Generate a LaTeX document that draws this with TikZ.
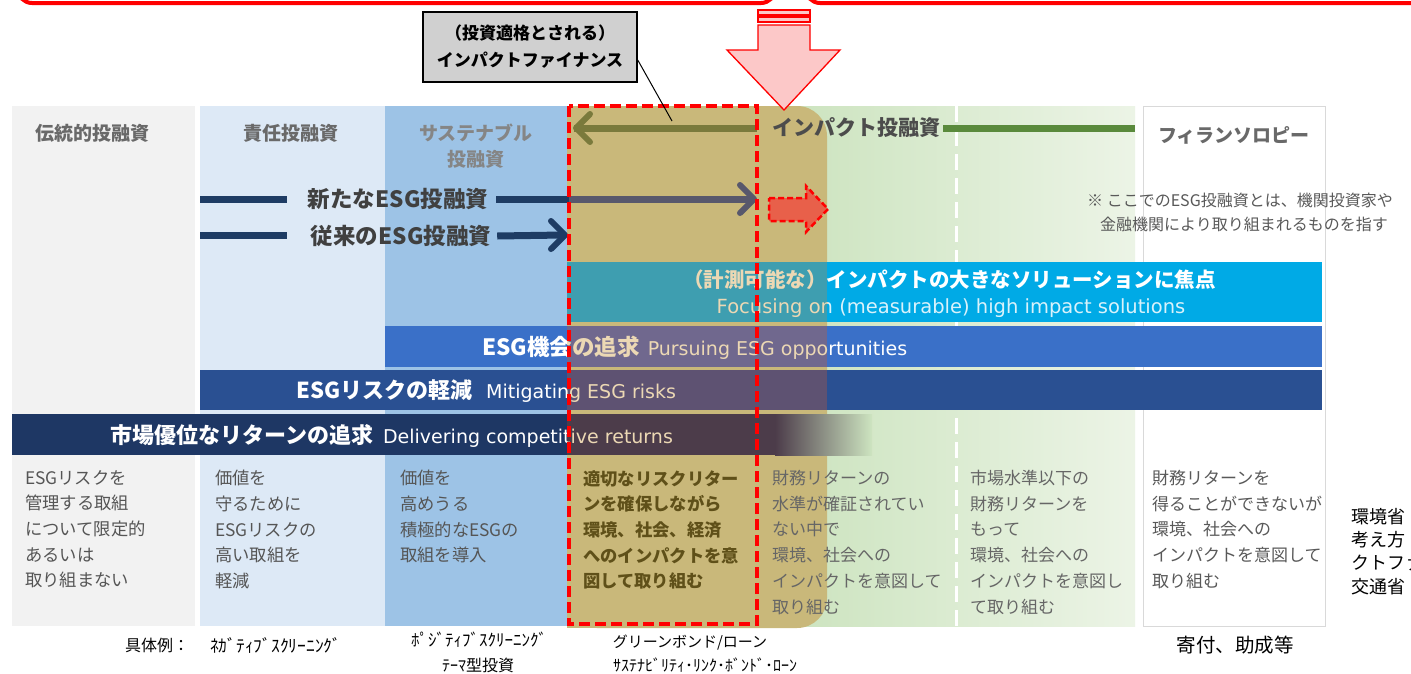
\documentclass[tikz,border=0pt]{standalone}
\usepackage{fontspec}
\setmainfont{Noto Sans CJK JP}
\newfontfamily\en{DejaVu Sans}
\usetikzlibrary{arrows.meta}
\definecolor{colA}{RGB}{242,242,242}
\definecolor{colB}{RGB}{221,233,246}
\definecolor{colC}{RGB}{157,195,230}
\definecolor{greenL}{RGB}{205,228,192}
\definecolor{greenR}{RGB}{236,244,230}
\definecolor{khaki}{RGB}{201,184,122}
\definecolor{cyanbar}{RGB}{0,170,230}
\definecolor{barB}{RGB}{58,112,200}
\definecolor{barC}{RGB}{42,80,146}
\definecolor{barD}{RGB}{30,55,100}
\definecolor{tintA}{RGB}{62,158,176}
\definecolor{tintB}{RGB}{112,104,142}
\definecolor{tintC}{RGB}{94,82,114}
\definecolor{tintD}{RGB}{76,60,74}
\definecolor{navyline}{RGB}{30,60,100}
\definecolor{grayarrow}{RGB}{88,88,108}
\definecolor{olive}{RGB}{122,122,60}
\definecolor{greenline}{RGB}{90,138,60}
\definecolor{descgray}{RGB}{85,85,85}
\definecolor{hdrgray}{RGB}{105,105,105}
\definecolor{khakitext}{RGB}{95,80,25}
\definecolor{pinkA}{RGB}{252,200,200}
\definecolor{beige}{RGB}{236,216,180}
\definecolor{calloutgray}{RGB}{208,208,208}
\definecolor{redarrow}{RGB}{232,96,74}
\newcommand\bartexts[2]{%
  \node[bartxt, text=#1, font=\bfseries\fontsize{20.5}{24}\selectfont] (b1j) at (683,280) {（計測可能な）インパクトの大きなソリューションに焦点};
  \node[inner sep=0, text=#2, font=\en\fontsize{19.5}{22}\selectfont] (b1e) at (951,308) {Focusing on (measurable) high impact solutions};
  \node[bartxt, text=#1] (b2t) at (482,348) {{\bfseries\fontsize{22.5}{24}\selectfont ESG機会の追求}\hspace{8pt}{\en\fontsize{19}{22}\selectfont Pursuing ESG opportunities}};
  \node[bartxt, text=#1] (b3t) at (296,391) {{\bfseries\fontsize{22}{24}\selectfont ESGリスクの軽減}\hspace{14pt}{\en\fontsize{19}{22}\selectfont Mitigating ESG risks}};
  \node[bartxt, text=#1] (b4t) at (110,436) {{\bfseries\fontsize{22}{24}\selectfont 市場優位なリターンの追求}\hspace{10pt}{\en\fontsize{19}{22}\selectfont Delivering competitive returns}};
}
\begin{document}
\begin{tikzpicture}[x=1pt,y=-1pt,
  hdr/.style={inner sep=0, text=hdrgray, font=\bfseries\fontsize{19}{26}\selectfont, align=center},
  desc/.style={anchor=north west, inner sep=0, align=left, text=descgray, font=\fontsize{17.3}{25.7}\selectfont},
  bartxt/.style={anchor=west, inner sep=0},
  bigarrow/.style={line width=7pt},
  example/.style={inner sep=0, font=\fontsize{16}{24}\selectfont, align=center}]
\useasboundingbox (0,0) rectangle (1411,673);
\fill[white] (0,0) rectangle (1411,673);
% columns
\fill[colA] (12,106) rectangle (195,626);
\fill[colB] (200,106) rectangle (385,626);
\fill[colC] (385,106) rectangle (567,626);
\shade[left color=greenL, right color=greenR] (800,106) rectangle (1135,626);
\draw[gray!30, fill=white] (1143,106) rectangle (1325,626);
\fill[khaki, rounded corners=30] (567,106) -- (827,106) -- (827,628) -- (567,628) [sharp corners] -- cycle;
\fill[khaki] (567,106) rectangle (700,628);
\draw[white, line width=3pt, dash pattern=on 16pt off 8pt] (956,106) -- (956,626);
% headers
\node[hdr] (h1) at (92,133) {伝統的投融資};
\node[hdr] (h2) at (291,133) {責任投融資};
\node[hdr, text=black!48] (h3) at (476,146) {サステナブル\\投融資};
\node[hdr, text=black!70, font=\bfseries\fontsize{21}{24}\selectfont] (h5) at (856,128) {インパクト投融資};
\node[hdr] (h7) at (1234,135) {フィランソロピー};
% olive and green lines
\coordinate (olS) at (757,128);
\coordinate (olE) at (574,128);
\draw[olive, bigarrow] (olS) -- (olE);
\draw[olive, line width=6pt, line cap=round, line join=round] (590,114) -- (576,128) -- (590,142);
\coordinate (glE) at (1135,128);
\draw[greenline, bigarrow] (h5.east) ++(3,0) coordinate (glS) -- (glE);
% ESG arrows
\node[inner sep=0, text=black!75, font=\bfseries\fontsize{22.5}{24}\selectfont] (nesg) at (398,199) {新たなESG投融資};
\node[inner sep=0, text=black!75, font=\bfseries\fontsize{22.5}{24}\selectfont] (oesg) at (401,236) {従来のESG投融資};
\draw[navyline, bigarrow] (200,199) -- (287,199);
\draw[navyline, bigarrow] (200,235) -- (287,235);
\draw[navyline, bigarrow] (nesg.east) ++(8,0) -- (569,199);
\draw[grayarrow, bigarrow] (569,199) -- (753,199);
\draw[grayarrow, line width=6pt, line cap=round, line join=round] (740,185) -- (754,199) -- (740,213);
\draw[navyline, bigarrow] (oesg.east) ++(6,0) -- (563,235);
\draw[navyline, line width=6pt, line cap=round, line join=round] (551,221) -- (565,235) -- (551,249);
% bars
\fill[cyanbar] (567,262) rectangle (1322,322);
\fill[barB] (385,326) rectangle (1322,367);
\fill[barC] (200,370) rectangle (1322,410);
\fill[barD] (12,414) rectangle (567,455);
\fill[tintA] (567,262) rectangle (827,322);
\fill[tintB] (567,326) rectangle (827,367);
\fill[tintC] (567,370) rectangle (827,410);
\fill[tintD] (567,414) rectangle (775,455);
\shade[left color=tintD, right color=greenL] (775,414) rectangle (872,455);
\begin{scope}
  \clip (0,0) rectangle (567,673) (827,0) rectangle (1411,673);
  \bartexts{white}{white!85!cyanbar}
\end{scope}
\begin{scope}
  \clip (567,0) rectangle (827,673);
  \bartexts{beige}{beige}
\end{scope}
% descriptions
\node[desc] (d1) at (25,470) {ESGリスクを\\管理する取組\\について限定的\\あるいは\\取り組まない};
\node[desc] (d2) at (215,470) {価値を\\守るために\\ESGリスクの\\高い取組を\\軽減};
\node[desc] (d3) at (400,470) {価値を\\高めうる\\積極的なESGの\\取組を導入};
\node[desc, text=khakitext, font=\bfseries\fontsize{17.3}{25.7}\selectfont] (d4) at (583,470) {適切なリスクリター\\ンを確保しながら\\環境、社会、経済\\へのインパクトを意\\図して取り組む};
\node[desc, text=black!60, font=\fontsize{17}{25.7}\selectfont] (d5) at (772,470) {財務リターンの\\水準が確証されてい\\ない中で\\環境、社会への\\インパクトを意図して\\取り組む};
\node[desc, text=black!60, font=\fontsize{17}{25.7}\selectfont] (d6) at (970,470) {市場水準以下の\\財務リターンを\\もって\\環境、社会への\\インパクトを意図し\\て取り組む};
\node[desc, text=black!65, font=\fontsize{17}{25.7}\selectfont] (d7) at (1152,470) {財務リターンを\\得ることができないが\\環境、社会への\\インパクトを意図して\\取り組む};
% red dashed frame
\draw[red, line width=3.5pt, dash pattern=on 11pt off 5pt] (569,106) rectangle (757,624);
% small red dashed block arrow
\draw[red, fill=redarrow, line width=2.5pt, dash pattern=on 6pt off 3pt]
  (769,198) -- (806,198) -- (806,186) -- (828,209) -- (806,232) -- (806,221) -- (769,221) -- cycle;
% note
\node[inner sep=0, anchor=west, text=black!65, font=\fontsize{16}{20}\selectfont] (note1) at (1087,200) {※ ここでのESG投融資とは、機関投資家や};
\node[inner sep=0, anchor=west, text=black!65, font=\fontsize{16}{20}\selectfont] (note2) at (1100,224) {金融機関により取り組まれるものを指す};
% top red boxes
\draw[red, line width=4pt, rounded corners=14] (18,-40) rectangle (775,3);
\draw[red, line width=4pt, rounded corners=14] (806,-40) rectangle (1440,3);
% down arrow
\draw[red, fill=pinkA, line width=1.3pt] (758,10) rectangle (810,15);
\draw[red, fill=pinkA, line width=1.3pt] (758,17) rectangle (810,22);
\draw[red, fill=pinkA, line width=1.3pt] (758,25) -- (810,25) -- (810,50) -- (840,50) -- (784,110) -- (727,50) -- (758,50) -- cycle;
% callout
\node[draw=black, line width=1.5pt, fill=calloutgray, minimum width=214pt, minimum height=70pt, align=center, font=\bfseries\fontsize{17}{27}\selectfont] (call) at (530,47) {（投資適格とされる）\\インパクトファイナンス};
\coordinate (callT) at (672,121);
\draw[black, line width=1pt] (call.east) ++(0,13) -- (callT);
% bottom examples
\node[example, anchor=west] (ex0) at (125,645) {具体例：};
\node[example, anchor=west, font=\fontsize{17.5}{24}\selectfont] (ex1) at (210,645) {ﾈｶﾞﾃｨﾌﾞｽｸﾘｰﾆﾝｸﾞ};
\node[example, font=\fontsize{17}{24}\selectfont] (ex2) at (479,640) {ﾎﾟｼﾞﾃｨﾌﾞｽｸﾘｰﾆﾝｸﾞ};
\node[example] (ex3) at (478,665) {ﾃｰﾏ型投資};
\node[example, font=\fontsize{15}{24}\selectfont] (ex4) at (690,643) {グリーンボンド/ローン};
\node[example] (ex5) at (705,665) {ｻｽﾃﾅﾋﾞﾘﾃｨ･ﾘﾝｸ･ﾎﾞﾝﾄﾞ･ﾛｰﾝ};
\node[example, font=\fontsize{19.5}{24}\selectfont] (ex6) at (1235,645) {寄付、助成等};
% right cut text
\node[inner sep=0, anchor=north west, align=left, font=\fontsize{18}{23.3}\selectfont] (rt) at (1351,508) {環境省\\考え方\\クトファ\\交通省};
\end{tikzpicture}
\end{document}
